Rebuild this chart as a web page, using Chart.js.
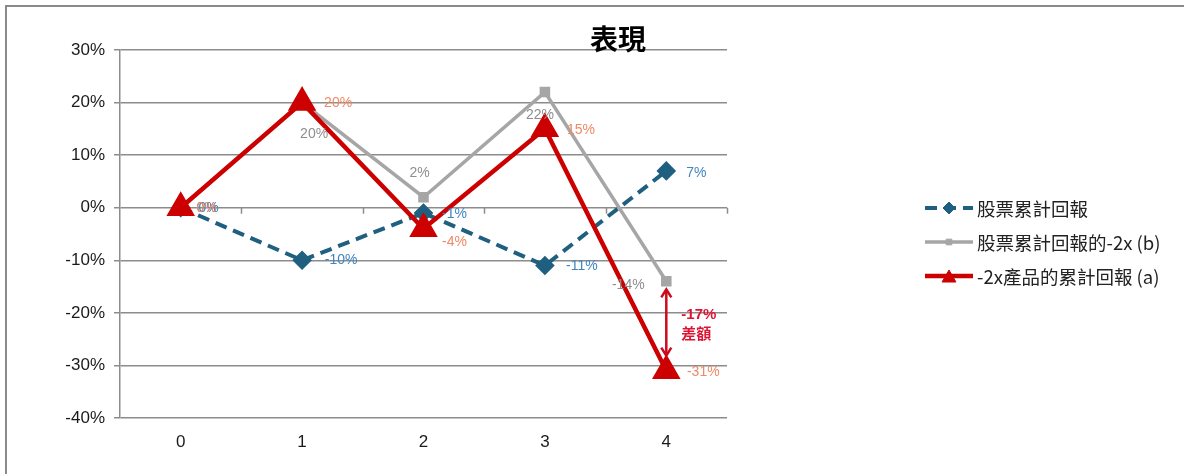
<!DOCTYPE html>
<html><head><meta charset="utf-8">
<script src="https://cdn.jsdelivr.net/npm/chart.js@4/dist/chart.umd.min.js"></script>
<style>html,body{margin:0;padding:0;background:#fff;overflow:hidden}#wrap{width:1184px;height:474px;position:relative}</style>
</head><body><div id="wrap"><canvas id="c" width="1184" height="474"></canvas></div>
<script>
// ---- data ----
const categories = ['0', '1', '2', '3', '4'];
const stockReturn = [0, -10, -1, -11, 7];
const minus2xStock = [0, 20, 2, 22, -14];
const minus2xProduct = [0, 20, -4, 15, -31];
const seriesNames = ['股票累計回報', '股票累計回報的-2x (b)', '-2x產品的累計回報 (a)'];
const yMin = -40, yMax = 30, yStep = 10;
const chartTitle = '表現';
const gapText = ['-17%', '差額'];
const gapFrom = minus2xStock[4], gapTo = minus2xProduct[4], gapIndex = 4;

// ---- styles ----
const FONT = "'Liberation Sans', 'Noto Sans CJK TC', sans-serif";
const CJK = "'Noto Sans CJK TC', 'Liberation Sans', sans-serif";
const GRID = '#8c8c8c';
const labelStyles = [
  { color: '#3f86c0', off: [[28, 0], [39, 0], [31, 1], [37, 1], [30, 2]] },
  { color: '#8e8e8e', off: [[26, 0], [12, 32], [-4, -24], [-5, 23], [-38, 4]] },
  { color: '#ee8a66', off: [[26, 0], [36, 1], [31, 13], [36, 1], [37, 1]] }
];

const decor = {
  id: 'decor',
  afterDatasetsDraw(chart) {
    const ctx = chart.ctx, ca = chart.chartArea;
    const xs = chart.scales.x, ys = chart.scales.y;
    ctx.save();
    // frame
    ctx.strokeStyle = '#8a8a8a'; ctx.lineWidth = 2;
    ctx.beginPath(); ctx.moveTo(6, 474); ctx.lineTo(6, 6); ctx.lineTo(1184, 6); ctx.stroke();
    // category tick marks on zero line
    const y0 = ys.getPixelForValue(0);
    ctx.strokeStyle = GRID; ctx.lineWidth = 1.5;
    const n = categories.length, w = (ca.right - ca.left) / n;
    for (let i = 1; i <= n; i++) {
      const x = Math.round(ca.left + i * w) + 0.5;
      ctx.beginPath(); ctx.moveTo(x, y0); ctx.lineTo(x, y0 + 6); ctx.stroke();
    }
    // data labels
    ctx.font = '14px ' + FONT; ctx.textAlign = 'center'; ctx.textBaseline = 'middle';
    chart.data.datasets.forEach((ds, di) => {
      const meta = chart.getDatasetMeta(di);
      meta.data.forEach((pt, i) => {
        const o = labelStyles[di].off[i];
        ctx.fillStyle = labelStyles[di].color;
        ctx.fillText(ds.data[i] + '%', pt.x + o[0], pt.y + o[1]);
      });
    });
    // gap arrow
    const ax = xs.getPixelForValue(gapIndex);
    const yA = ys.getPixelForValue(gapFrom) + 8, yB = ys.getPixelForValue(gapTo) - 15;
    ctx.strokeStyle = '#cc0a1e'; ctx.fillStyle = '#cc0a1e'; ctx.lineWidth = 2.5;
    ctx.beginPath(); ctx.moveTo(ax, yA + 2); ctx.lineTo(ax, yB - 2); ctx.stroke();
    ctx.beginPath(); ctx.moveTo(ax - 5, yA + 8); ctx.lineTo(ax, yA); ctx.lineTo(ax + 5, yA + 8); ctx.stroke();
    ctx.beginPath(); ctx.moveTo(ax - 5, yB - 8); ctx.lineTo(ax, yB); ctx.lineTo(ax + 5, yB - 8); ctx.stroke();
    ctx.textAlign = 'left'; ctx.fillStyle = '#dd1533';
    ctx.font = 'bold 15px ' + FONT; ctx.fillText(gapText[0], ax + 15, (yA + yB) / 2 - 8);
    ctx.font = 'bold 15px ' + CJK; ctx.fillText(gapText[1], ax + 15, (yA + yB) / 2 + 11);
    // title
    ctx.fillStyle = '#000'; ctx.textAlign = 'center';
    ctx.font = 'bold 28px ' + CJK; ctx.fillText(chartTitle, 618, 39);
    // legend
    const lx = 925, rows = [208, 242, 276], radii = [6, 4, 8];
    chart.data.datasets.forEach((ds, di) => {
      const y = rows[di];
      ctx.save();
      ctx.strokeStyle = ds.borderColor; ctx.lineWidth = ds.borderWidth;
      ctx.setLineDash(ds.borderDash || []);
      ctx.beginPath(); ctx.moveTo(lx, y); ctx.lineTo(lx + 48, y); ctx.stroke();
      ctx.setLineDash([]);
      ctx.fillStyle = ds.pointBackgroundColor; ctx.strokeStyle = ds.pointBackgroundColor; ctx.lineWidth = 1;
      Chart.helpers.drawPoint(ctx, { pointStyle: ds.pointStyle, radius: radii[di], rotation: 0, borderWidth: 1 }, lx + 24, y + (di === 2 ? 2 : 0));
      ctx.restore();
      ctx.fillStyle = '#222'; ctx.textAlign = 'left';
      ctx.font = '18.5px ' + CJK;
      ctx.fillText(ds.label, lx + 52, y + 1);
    });
    ctx.restore();
  }
};

new Chart(document.getElementById('c'), {
  type: 'line',
  data: {
    labels: categories,
    datasets: [
      { label: seriesNames[0], data: stockReturn, borderColor: '#1f5f7f', backgroundColor: '#1f5f7f',
        pointBackgroundColor: '#1f5f7f', pointBorderColor: '#1f5f7f', borderWidth: 4, borderDash: [12, 7],
        pointStyle: 'rectRot', pointRadius: 7, order: 3, tension: 0 },
      { label: seriesNames[1], data: minus2xStock, borderColor: '#a6a6a6', backgroundColor: '#a6a6a6',
        pointBackgroundColor: '#a6a6a6', pointBorderColor: '#a6a6a6', borderWidth: 3.5,
        pointStyle: 'rect', pointRadius: 5, order: 2, tension: 0 },
      { label: seriesNames[2], data: minus2xProduct, borderColor: '#cc0000', backgroundColor: '#cc0000',
        pointBackgroundColor: '#cc0000', pointBorderColor: '#cc0000', borderWidth: 4.5,
        pointStyle: 'triangle', pointRadius: 12, order: 1, tension: 0 }
    ]
  },
  options: {
    responsive: false, animation: false, devicePixelRatio: 1,
    layout: { padding: { left: 0, right: 457, top: 50, bottom: 0 } },
    plugins: { legend: { display: false }, tooltip: { enabled: false }, title: { display: false } },
    scales: {
      x: {
        offset: true,
        grid: { display: false, drawTicks: false },
        border: { display: false },
        ticks: { color: '#1a1a1a', font: { size: 17, family: FONT }, padding: 14 },
        afterFit(s) { s.height = 56; }
      },
      y: {
        min: yMin, max: yMax,
        ticks: { stepSize: yStep, color: '#1a1a1a', font: { size: 17, family: FONT }, padding: 9,
          callback: v => v + '%' },
        grid: { color: GRID, lineWidth: 1.5, tickLength: 6, tickColor: GRID },
        border: { display: true, color: GRID, width: 1.5 },
        afterFit(s) { s.width = 120; }
      }
    }
  },
  plugins: [decor]
});
</script></body></html>
